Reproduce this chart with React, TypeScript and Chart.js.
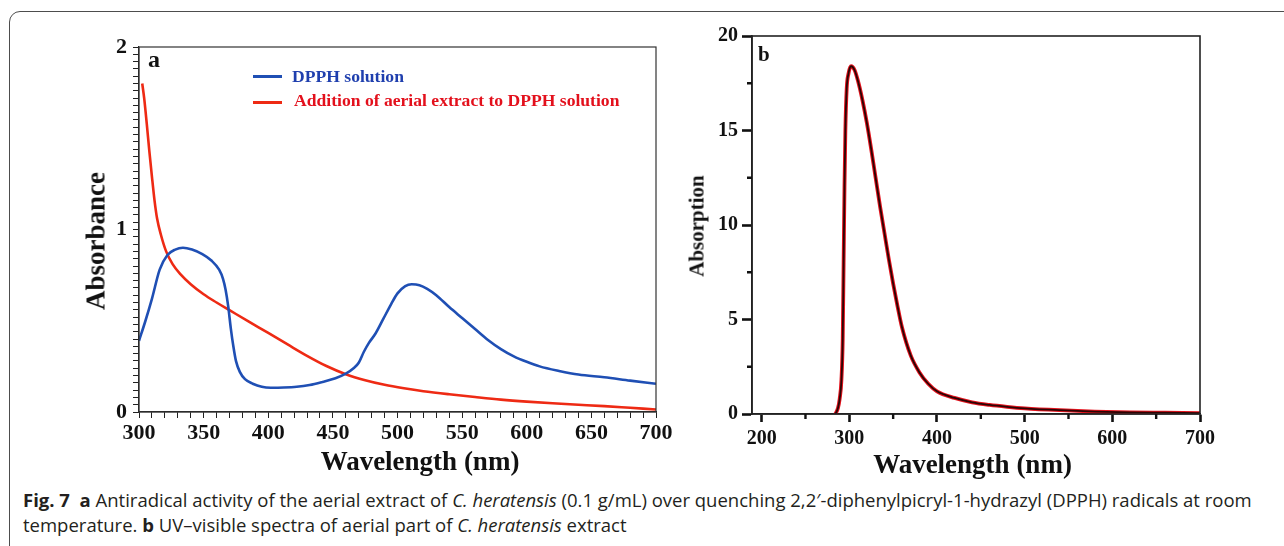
import React, { useEffect, useRef } from "react";
import { Chart, registerables } from "chart.js";

Chart.register(...registerables);

// ---------- Panel a data ----------
const dpphWavelength = [300, 305, 310, 316, 322, 328, 334, 341, 349, 356, 362, 365, 367, 369, 371, 373, 375, 378, 382, 388, 395, 402, 412, 422, 432, 442, 452, 460, 466, 470, 474, 478, 483, 489, 495, 500, 506, 511, 517, 523, 530, 540, 550, 560, 570, 580, 590, 600, 610, 625, 640, 660, 680, 700];
const dpphAbsorbance = [0.39, 0.5, 0.62, 0.78, 0.86, 0.89, 0.9, 0.89, 0.865, 0.83, 0.78, 0.73, 0.67, 0.58, 0.46, 0.36, 0.28, 0.22, 0.18, 0.155, 0.138, 0.133, 0.134, 0.138, 0.148, 0.165, 0.185, 0.21, 0.24, 0.27, 0.33, 0.38, 0.43, 0.51, 0.59, 0.65, 0.69, 0.7, 0.695, 0.675, 0.64, 0.575, 0.515, 0.455, 0.395, 0.345, 0.305, 0.275, 0.25, 0.225, 0.205, 0.19, 0.172, 0.155];

const extractWavelength = [302.5, 304, 306, 308, 310, 312, 314, 317, 321, 326, 332, 340, 350, 360, 370, 385, 400, 415, 430, 445, 460, 475, 490, 505, 520, 540, 560, 580, 600, 620, 640, 660, 680, 700];
const extractAbsorbance = [1.8, 1.72, 1.58, 1.43, 1.29, 1.16, 1.06, 0.97, 0.88, 0.81, 0.755, 0.7, 0.645, 0.6, 0.558, 0.495, 0.433, 0.37, 0.308, 0.252, 0.207, 0.174, 0.149, 0.13, 0.114, 0.097, 0.082, 0.068, 0.057, 0.048, 0.04, 0.032, 0.023, 0.014];

const seriesALabels = ["DPPH solution", "Addition of aerial extract to DPPH solution"];

// ---------- Panel b data ----------
const spectrumWavelength = [284, 287, 289, 291, 292.5, 293.5, 294.5, 295.5, 297, 299, 302, 306, 310, 315, 320, 325, 330, 335, 340, 345, 350, 355, 360, 370, 380, 390, 400, 420, 440, 460, 480, 500, 540, 580, 620, 660, 700];
const spectrumAbsorption = [0, 0.3, 0.8, 1.8, 4, 8, 12, 15, 17.2, 18.0, 18.4, 18.2, 17.6, 16.6, 15.4, 14.0, 12.5, 11.0, 9.6, 8.2, 6.9, 5.7, 4.6, 3.1, 2.2, 1.6, 1.2, 0.85, 0.62, 0.48, 0.38, 0.3, 0.2, 0.13, 0.09, 0.07, 0.05];

const bMinorX = [250, 350, 450, 550, 650];
const bMinorY = [2.5, 7.5, 12.5, 17.5];

const toPoints = (xs: number[], ys: number[]) => xs.map((x, i) => ({ x, y: ys[i] }));

const SERIF = "'Liberation Serif', 'Times New Roman', serif";

const frameBoxPlugin = {
  id: "frameBox",
  afterDraw(chart: any, _args: any, opts: any) {
    const { ctx, chartArea } = chart;
    ctx.save();
    ctx.strokeStyle = opts.color || "#222";
    ctx.lineWidth = opts.width || 1;
    ctx.strokeRect(chartArea.left, chartArea.top, chartArea.right - chartArea.left, chartArea.bottom - chartArea.top);
    ctx.restore();
  },
};

const minorTicksPlugin = {
  id: "minorTicks",
  afterDraw(chart: any, _args: any, opts: any) {
    if (!opts || !opts.xValues) return;
    const { ctx } = chart;
    const xs = chart.scales.x;
    const ys = chart.scales.y;
    ctx.save();
    ctx.strokeStyle = opts.color || "#111";
    ctx.lineWidth = opts.width || 1;
    ctx.beginPath();
    for (const v of opts.xValues) {
      const px = xs.getPixelForValue(v);
      ctx.moveTo(px, xs.top);
      ctx.lineTo(px, xs.top + opts.length);
    }
    for (const v of opts.yValues) {
      const py = ys.getPixelForValue(v);
      ctx.moveTo(ys.right - opts.length, py);
      ctx.lineTo(ys.right, py);
    }
    ctx.stroke();
    ctx.restore();
  },
};

function PanelA() {
  const ref = useRef<HTMLCanvasElement>(null);
  useEffect(() => {
    const chart = new Chart(ref.current as HTMLCanvasElement, {
      type: "line",
      data: {
        datasets: [
          {
            label: seriesALabels[0],
            data: toPoints(dpphWavelength, dpphAbsorbance),
            borderColor: "#1f4fb4",
            borderWidth: 2.6,
            pointRadius: 0,
            tension: 0.4,
            cubicInterpolationMode: "monotone",
          },
          {
            label: seriesALabels[1],
            data: toPoints(extractWavelength, extractAbsorbance),
            borderColor: "#ee2a14",
            borderWidth: 2.6,
            pointRadius: 0,
            tension: 0.4,
            cubicInterpolationMode: "monotone",
          },
        ],
      },
      options: {
        responsive: false,
        animation: false,
        layout: { padding: { top: 47, right: 24, left: 0, bottom: 0 } },
        plugins: {
          legend: { display: false },
          tooltip: { enabled: false },
          frameBox: { color: "#333", width: 1.2 },
        } as any,
        scales: {
          x: {
            type: "linear",
            min: 300,
            max: 700,
            ticks: {
              stepSize: 10,
              autoSkip: false,
              maxTicksLimit: 1000,
              maxRotation: 0,
              minRotation: 0,
              includeBounds: false,
              color: "#111",
              padding: 2,
              font: { family: SERIF, weight: "bold", size: 22 },
              callback: (v: any) => (Math.round(v) % 50 === 0 ? String(Math.round(v)) : ""),
            },
            grid: { drawOnChartArea: false, drawTicks: true, tickLength: 6, color: "#222", tickWidth: 1 },
            border: { display: true, color: "#222", width: 1.2 },
            afterFit: (s: any) => { s.height = 68; },
          },
          y: {
            type: "linear",
            min: 0,
            max: 2,
            ticks: {
              stepSize: 0.04,
              autoSkip: false,
              maxTicksLimit: 1000,
              color: "#111",
              padding: 6,
              font: { family: SERIF, weight: "bold", size: 22 },
              callback: (v: any) => (Math.abs(v - Math.round(v)) < 1e-6 ? String(Math.round(v)) : ""),
            },
            grid: { drawOnChartArea: false, drawTicks: true, tickLength: 6, color: "#222", tickWidth: 1 },
            border: { display: true, color: "#222", width: 1.2 },
            afterFit: (s: any) => { s.width = 139; },
          },
        },
      } as any,
      plugins: [frameBoxPlugin],
    });
    return () => chart.destroy();
  }, []);
  return <canvas ref={ref} width={680} height={480} style={{ position: "absolute", left: 0, top: 0, width: 680, height: 480 }} />;
}

function PanelB() {
  const ref = useRef<HTMLCanvasElement>(null);
  useEffect(() => {
    const pts = toPoints(spectrumWavelength, spectrumAbsorption);
    const chart = new Chart(ref.current as HTMLCanvasElement, {
      type: "line",
      data: {
        datasets: [
          {
            label: "UV–visible",
            data: pts,
            borderColor: "#2a0505",
            borderWidth: 1.8,
            pointRadius: 0,
            tension: 0.4,
            cubicInterpolationMode: "monotone",
          },
          {
            label: "UV–visible (outline)",
            data: pts,
            borderColor: "#e3121c",
            borderWidth: 3.8,
            pointRadius: 0,
            tension: 0.4,
            cubicInterpolationMode: "monotone",
          },
        ],
      },
      options: {
        responsive: false,
        animation: false,
        layout: { padding: { top: 36, right: 84, left: 0, bottom: 0 } },
        plugins: {
          legend: { display: false },
          tooltip: { enabled: false },
          frameBox: { color: "#222", width: 1.6 },
          minorTicks: { xValues: bMinorX, yValues: bMinorY, length: 5, width: 2.4, color: "#111" },
        } as any,
        scales: {
          x: {
            type: "linear",
            min: 189,
            max: 700,
            ticks: {
              stepSize: 100,
              autoSkip: false,
              maxRotation: 0,
              minRotation: 0,
              includeBounds: false,
              color: "#111",
              padding: 5,
              font: { family: SERIF, weight: "bold", size: 20 },
            },
            grid: { drawOnChartArea: false, drawTicks: true, tickLength: 8, color: "#111", tickWidth: 2.6 },
            border: { display: true, color: "#222", width: 1.6 },
            afterFit: (s: any) => { s.height = 66; },
          },
          y: {
            type: "linear",
            min: 0,
            max: 20,
            ticks: {
              stepSize: 5,
              autoSkip: false,
              color: "#111",
              padding: 4,
              font: { family: SERIF, weight: "bold", size: 20 },
            },
            grid: { drawOnChartArea: false, drawTicks: true, tickLength: 10, color: "#111", tickWidth: 2.6 },
            border: { display: true, color: "#222", width: 1.6 },
            afterFit: (s: any) => { s.width = 92; },
          },
        },
      } as any,
      plugins: [frameBoxPlugin, minorTicksPlugin],
    });
    return () => chart.destroy();
  }, []);
  return <canvas ref={ref} width={624} height={480} style={{ position: "absolute", left: 660, top: 0, width: 624, height: 480 }} />;
}

const abs = (o: React.CSSProperties): React.CSSProperties => ({ position: "absolute", whiteSpace: "nowrap", lineHeight: 1, ...o });

export default function App() {
  const capFont = "'Open Sans', 'Noto Sans', sans-serif";
  return (
    <div style={{ position: "absolute", left: 0, top: 0, width: 1284, height: 546, overflow: "hidden", background: "#fff" }}>
      <div style={{ position: "absolute", left: 9, top: 11, width: 1320, height: 580, border: "1px solid #4d4d4d", borderRadius: 11, boxSizing: "border-box" }} />
      <PanelA />
      <PanelB />
      {/* panel a texts */}
      <div style={abs({ left: 148, top: 47, fontFamily: SERIF, fontWeight: "bold", fontSize: 24, color: "#111" })}>a</div>
      <div style={abs({ left: 253, top: 74.5, width: 29, height: 3, background: "#1f4fb4" })} />
      <div style={abs({ left: 253, top: 100.5, width: 29, height: 3, background: "#ee2a14" })} />
      <div style={abs({ left: 292, top: 68.3, fontFamily: SERIF, fontWeight: "bold", fontSize: 17.6, color: "#1f3fae" })}>{seriesALabels[0]}</div>
      <div style={abs({ left: 294, top: 92.3, fontFamily: SERIF, fontWeight: "bold", fontSize: 17.6, color: "#e3101c" })}>{seriesALabels[1]}</div>
      <div style={abs({ left: 420, top: 447.5, transform: "translateX(-50%)", fontFamily: SERIF, fontWeight: "bold", fontSize: 27, color: "#111" })}>Wavelength (nm)</div>
      <div style={abs({ left: 96, top: 241, transform: "translate(-50%,-50%) rotate(-90deg)", fontFamily: SERIF, fontWeight: "bold", fontSize: 27, color: "#111" })}>Absorbance</div>
      {/* panel b texts */}
      <div style={abs({ left: 758, top: 44.4, fontFamily: SERIF, fontWeight: "bold", fontSize: 21, color: "#111" })}>b</div>
      <div style={abs({ left: 972.5, top: 450.5, transform: "translateX(-50%)", fontFamily: SERIF, fontWeight: "bold", fontSize: 27, color: "#111" })}>Wavelength (nm)</div>
      <div style={abs({ left: 697, top: 226, transform: "translate(-50%,-50%) rotate(-90deg)", fontFamily: SERIF, fontWeight: "bold", fontSize: 21, color: "#111" })}>Absorption</div>
      {/* caption */}
      <div style={abs({ left: 23, top: 490.6, fontFamily: capFont, fontSize: 18.5, color: "#231f20" })}>
        <b>Fig. 7</b>&nbsp; <b>a</b> Antiradical activity of the aerial extract of <i>C. heratensis</i> (0.1 g/mL) over quenching 2,2′-diphenylpicryl-1-hydrazyl (DPPH) radicals at room
      </div>
      <div style={abs({ left: 23, top: 515.6, fontFamily: capFont, fontSize: 18.5, color: "#231f20" })}>
        temperature. <b>b</b> UV–visible spectra of aerial part of <i>C. heratensis</i> extract
      </div>
    </div>
  );
}
